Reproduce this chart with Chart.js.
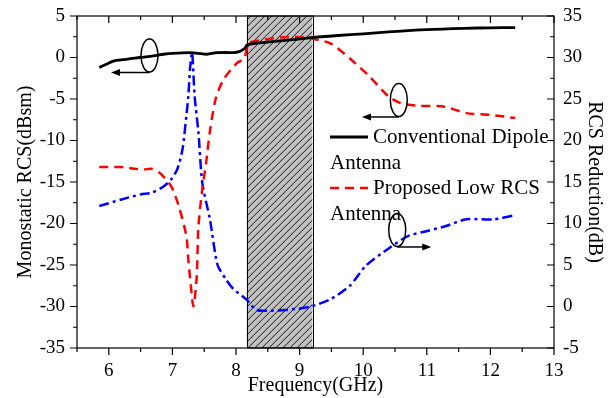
<!DOCTYPE html>
<html><head><meta charset="utf-8">
<script src="https://cdn.jsdelivr.net/npm/chart.js@4/dist/chart.umd.min.js"></script>
<style>html,body{margin:0;padding:0;background:#fff}canvas{display:block}</style>
</head><body>
<canvas id="c" width="610" height="398"></canvas>
<script>
// ---- data ----
const xTicks = [6, 7, 8, 9, 10, 11, 12, 13];
const yLeftTicks = [5, 0, -5, -10, -15, -20, -25, -30, -35];
const yRightTicks = [35, 30, 25, 20, 15, 10, 5, 0, -5];

const convFreq = [5.85, 5.95, 6.05, 6.12, 6.3, 6.49, 6.7, 6.86, 7.0, 7.28, 7.4, 7.54, 7.62, 7.7, 7.85, 7.96, 8.05, 8.11, 8.15, 8.17, 8.3, 8.57, 8.9, 9.18, 9.6, 10.0, 10.4, 11.0, 11.6, 12.0, 12.39];
const convRcs  = [-1.2, -0.85, -0.5, -0.35, -0.2, 0.0, 0.2, 0.39, 0.5, 0.58, 0.5, 0.39, 0.5, 0.58, 0.6, 0.58, 0.7, 0.95, 1.2, 1.5, 1.7, 1.9, 2.15, 2.4, 2.65, 2.85, 3.08, 3.36, 3.52, 3.58, 3.6];

const propFreq = [5.85, 6.18, 6.4, 6.55, 6.67, 6.8, 6.98, 7.1, 7.22, 7.25, 7.28, 7.33, 7.38, 7.41, 7.47, 7.53, 7.59, 7.68, 7.8, 8.01, 8.13, 8.2, 8.45, 8.69, 8.94, 9.18, 9.49, 9.79, 10.1, 10.4, 10.59, 10.89, 11.26, 11.62, 11.99, 12.39];
const propRcs  = [-13.2, -13.2, -13.4, -13.5, -13.4, -13.9, -15.5, -17.9, -21.5, -24.3, -26.7, -30, -26.7, -20.3, -15.9, -12.7, -8.9, -5, -2.7, -0.7, -0.1, 1.7, 2.16, 2.4, 2.48, 2.28, 1.68, -0.12, -2.3, -4.7, -5.5, -5.84, -5.9, -6.7, -6.9, -7.3];

const redFreq = [5.85, 6.2, 6.5, 6.67, 6.85, 6.98, 7.08, 7.16, 7.22, 7.25, 7.28, 7.31, 7.35, 7.41, 7.47, 7.59, 7.71, 7.84, 7.96, 8.17, 8.32, 8.57, 8.94, 9.18, 9.49, 9.79, 10.04, 10.4, 10.71, 11.01, 11.3, 11.62, 12.05, 12.39];
const redReduction = [12.1, 12.9, 13.5, 13.7, 14.4, 15.3, 16.6, 19.0, 23.0, 25.3, 28.9, 30.6, 25.3, 20.9, 14.9, 10.5, 5.0, 3.3, 2.1, 0.8, -0.4, -0.5, -0.3, 0.0, 0.9, 2.5, 4.9, 7.0, 8.5, 9.1, 9.7, 10.5, 10.5, 11.0];

const band = [8.17, 9.2];
const legendLines = [["Conventional Dipole", "Antenna"], ["Proposed Low RCS", "Antenna"]];

// annotation ellipses with arrows (data coords)
const annotations = [
  {axis: 'y',  cx: 6.64,  cy: 0.24,  tip: 6.035},
  {axis: 'y',  cx: 10.56, cy: -5.12, tip: 9.98},
  {axis: 'y1', cx: 10.535, cy: 9.22, tip: 11.07}
];

const FONT = "'Liberation Serif', 'Times New Roman', serif";
const zip = (xs, ys) => xs.map((x, i) => ({x, y: ys[i]}));

const overlay = {
  id: 'overlay',
  beforeDatasetsDraw(chart) {
    const {ctx, chartArea: a, scales: {x}} = chart;
    const x0 = x.getPixelForValue(band[0]), x1 = x.getPixelForValue(band[1]);
    const h = a.bottom - a.top;
    ctx.save();
    ctx.fillStyle = '#c0c0c0';
    ctx.fillRect(x0, a.top, x1 - x0, h);
    ctx.beginPath(); ctx.rect(x0, a.top, x1 - x0, h); ctx.clip();
    ctx.strokeStyle = '#000'; ctx.lineWidth = 0.9;
    const dx = 7;
    ctx.beginPath();
    for (let s = x0 - h - 10; s < x1 + 10; s += dx) {
      ctx.moveTo(s, a.bottom);
      ctx.lineTo(s + h, a.top);
    }
    ctx.stroke();
    ctx.restore();
    ctx.save();
    ctx.strokeStyle = '#000'; ctx.lineWidth = 1;
    ctx.strokeRect(Math.round(x0) + 0.5, a.top, Math.round(x1 - x0), h);
    ctx.restore();
  },
  afterDraw(chart) {
    const {ctx, chartArea: a, scales} = chart;
    const {x, y, y1} = scales;
    ctx.save();
    ctx.strokeStyle = '#000'; ctx.lineWidth = 1.2;
    ctx.strokeRect(a.left, a.top, a.right - a.left, a.bottom - a.top);
    ctx.beginPath();
    for (let v = 5.5; v <= 13.001; v += 0.5) {
      const px = x.getPixelForValue(v);
      const major = Math.abs(v - Math.round(v)) < 1e-6;
      const L = major ? 7 : 4;
      ctx.moveTo(px, a.bottom); ctx.lineTo(px, a.bottom + L);
      ctx.moveTo(px, a.top); ctx.lineTo(px, a.top + L);
    }
    for (let v = -35; v <= 5.001; v += 2.5) {
      const py = y.getPixelForValue(v);
      const major = Math.abs(v / 5 - Math.round(v / 5)) < 1e-6;
      const L = major ? 7 : 4;
      ctx.moveTo(a.left, py); ctx.lineTo(a.left - L, py);
    }
    for (let v = -5; v <= 35.001; v += 2.5) {
      const py = y1.getPixelForValue(v);
      const major = Math.abs(v / 5 - Math.round(v / 5)) < 1e-6;
      const L = major ? 7 : 4;
      ctx.moveTo(a.right, py); ctx.lineTo(a.right - L, py);
    }
    ctx.stroke();

    // annotations
    ctx.lineWidth = 1.5;
    ctx.fillStyle = '#000';
    annotations.forEach(an => {
      const cx = x.getPixelForValue(an.cx);
      const cy = scales[an.axis].getPixelForValue(an.cy);
      const rx = 8.5, ry = 16.5;
      ctx.beginPath();
      ctx.ellipse(cx, cy, rx, ry, 0, 0, Math.PI * 2);
      ctx.stroke();
      const ay = cy + ry + 0.5;
      const tx = x.getPixelForValue(an.tip);
      const dir = tx < cx ? -1 : 1;
      ctx.beginPath();
      ctx.moveTo(cx, ay); ctx.lineTo(tx - dir * 6, ay);
      ctx.stroke();
      ctx.beginPath();
      ctx.moveTo(tx, ay);
      ctx.lineTo(tx - dir * 9, ay - 3.5);
      ctx.lineTo(tx - dir * 9, ay + 3.5);
      ctx.closePath(); ctx.fill();
    });

    // legend
    const ds = chart.data.datasets;
    const lx = 330, lw = 38, tx = 373;
    const rows = [137, 188];
    ctx.font = "21px " + FONT;
    ctx.textBaseline = 'middle';
    ctx.textAlign = 'left';
    ctx.fillStyle = '#000';
    legendLines.forEach((lines, i) => {
      const d = ds[i];
      const yy = rows[i];
      ctx.save();
      ctx.strokeStyle = d.borderColor; ctx.lineWidth = d.borderWidth;
      ctx.setLineDash(d.borderDash || []);
      ctx.beginPath(); ctx.moveTo(lx, yy); ctx.lineTo(lx + lw, yy); ctx.stroke();
      ctx.restore();
      ctx.fillText(lines[0], tx, yy);
      ctx.fillText(lines[1], lx, yy + 26);
    });
    ctx.restore();
  }
};

const tickFont = {family: FONT, size: 19};
const titleFont = {family: FONT, size: 20};
const noPadV = s => { s.paddingTop = 0; s.paddingBottom = 0; };

new Chart(document.getElementById('c'), {
  type: 'line',
  data: {
    datasets: [
      {label: 'Conventional Dipole Antenna', data: zip(convFreq, convRcs), yAxisID: 'y',
       borderColor: '#000', borderWidth: 2.8, pointRadius: 0, tension: 0.25, fill: false},
      {label: 'Proposed Low RCS Antenna', data: zip(propFreq, propRcs), yAxisID: 'y',
       borderColor: '#ff0000', borderWidth: 2.5, borderDash: [9, 6], pointRadius: 0, tension: 0.25, fill: false},
      {label: 'RCS Reduction', data: zip(redFreq, redReduction), yAxisID: 'y1',
       borderColor: '#0000ff', borderWidth: 2.5, borderDash: [10, 4, 3, 4], pointRadius: 0, tension: 0.25, fill: false}
    ]
  },
  options: {
    responsive: false,
    animation: false,
    devicePixelRatio: 1,
    layout: {padding: {top: 16, left: 0, right: 0, bottom: 0}},
    plugins: {legend: {display: false}, tooltip: {enabled: false}},
    scales: {
      x: {
        type: 'linear', position: 'bottom', min: 5.5, max: 13,
        afterBuildTicks: s => { s.ticks = xTicks.map(v => ({value: v})); },
        afterFit: s => { s.height = 50; s.paddingLeft = 0; s.paddingRight = 0; },
        grid: {display: false, drawTicks: false}, border: {display: false},
        ticks: {font: tickFont, color: '#000', padding: 12, maxRotation: 0, autoSkip: false},
        title: {display: true, text: 'Frequency(GHz)', font: titleFont, color: '#000', padding: {top: 0, bottom: 0}}
      },
      y: {
        type: 'linear', position: 'left', min: -35, max: 5,
        afterBuildTicks: s => { s.ticks = yLeftTicks.map(v => ({value: v})); },
        afterFit: s => { s.width = 77; noPadV(s); },
        grid: {display: false, drawTicks: false}, border: {display: false},
        ticks: {font: tickFont, color: '#000', padding: 12, autoSkip: false},
        title: {display: true, text: 'Monostatic RCS(dBsm)', font: titleFont, color: '#000', padding: {top: 14, bottom: 0}}
      },
      y1: {
        type: 'linear', position: 'right', min: -5, max: 35,
        afterBuildTicks: s => { s.ticks = yRightTicks.map(v => ({value: v})); },
        afterFit: s => { s.width = 56; noPadV(s); },
        grid: {display: false, drawTicks: false}, border: {display: false},
        ticks: {font: tickFont, color: '#000', padding: 9, autoSkip: false},
        title: {display: true, text: 'RCS Reduction(dB)', font: titleFont, color: '#000', padding: {top: 4, bottom: 0}}
      }
    }
  },
  plugins: [overlay]
});
</script>
</body></html>
